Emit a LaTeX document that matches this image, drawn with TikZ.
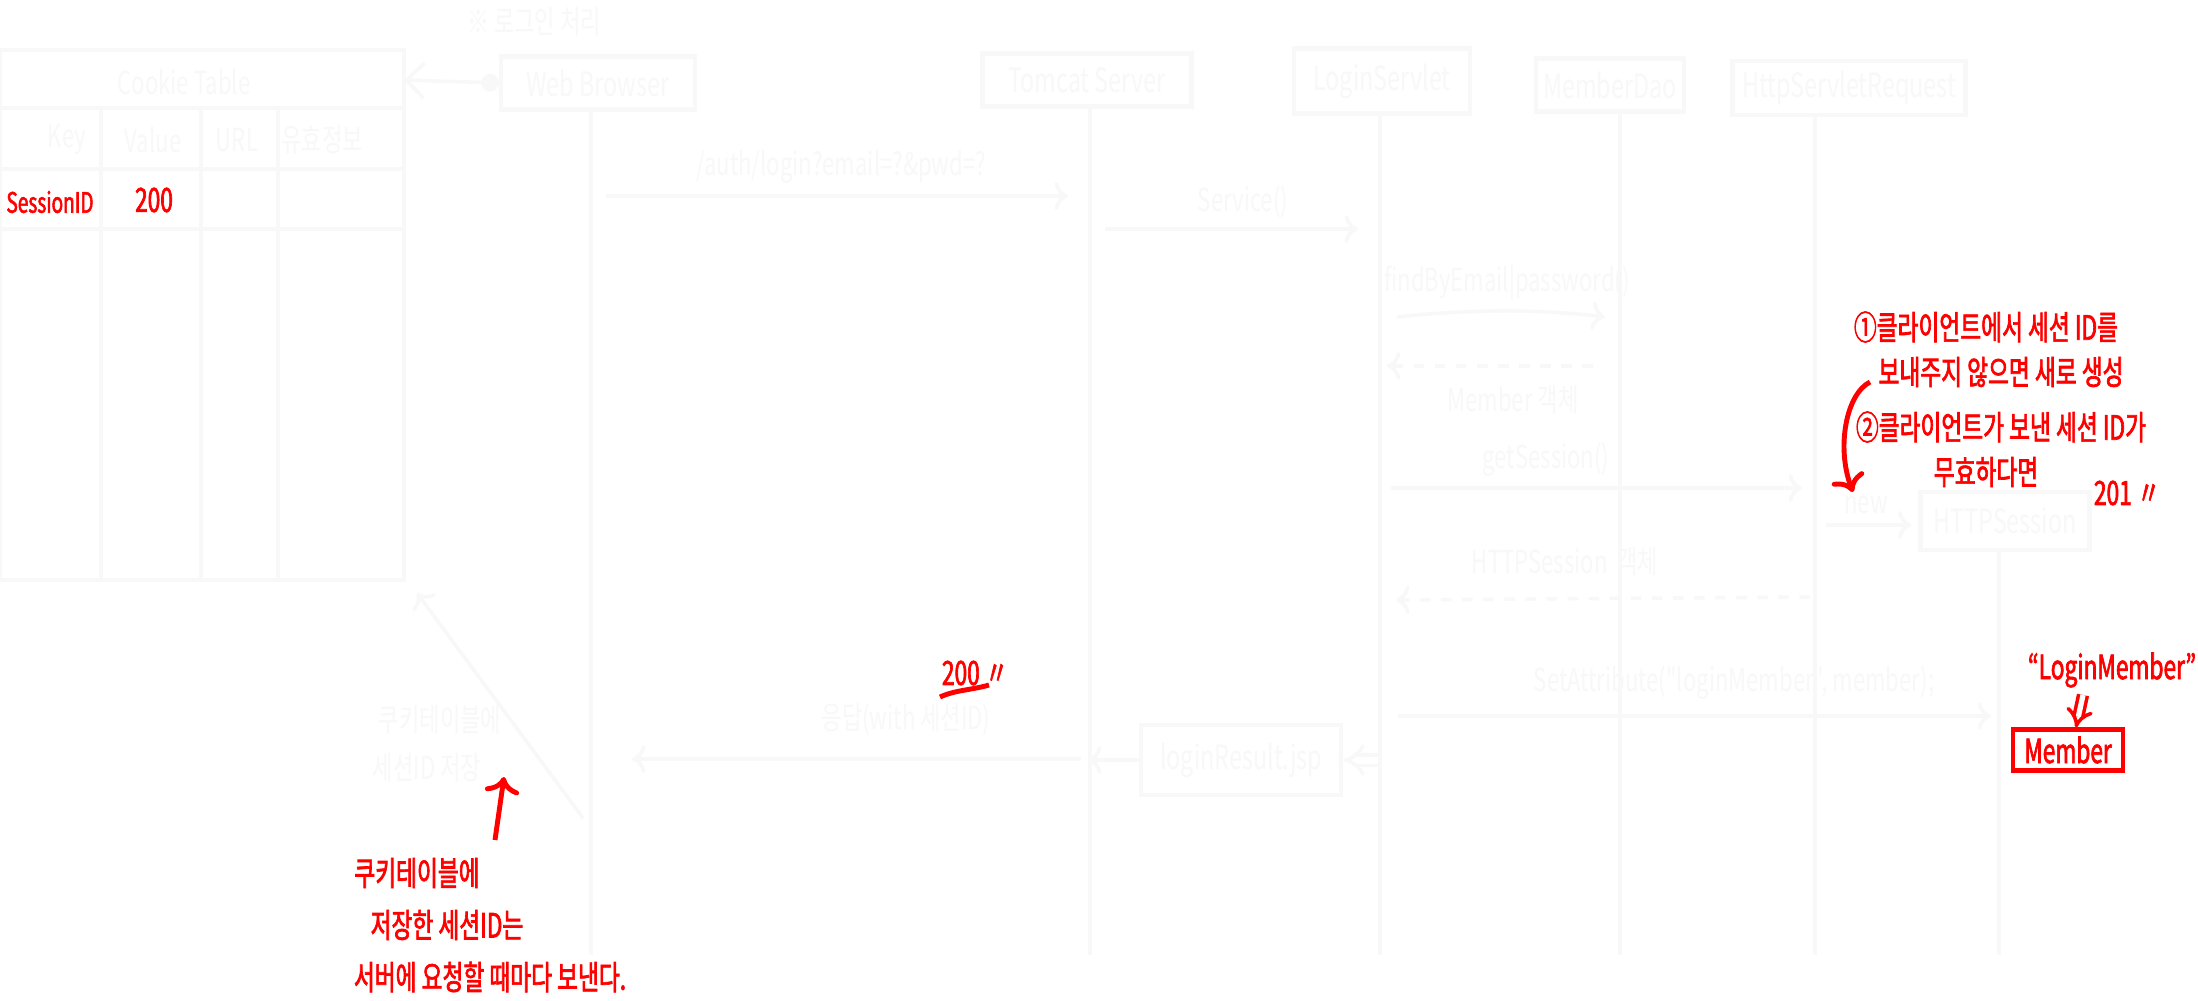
\documentclass[tikz,border=0pt]{standalone}
\usepackage{fontspec}
\newfontfamily\hand[FakeStretch=0.7]{Noto Sans CJK KR}
\newfontfamily\handred[FakeStretch=0.68,FakeBold=2]{Noto Sans CJK KR}
\usetikzlibrary{arrows.meta}
\definecolor{chalk}{gray}{0.972}
\definecolor{pen}{RGB}{255,0,0}

\tikzset{
  actor/.style={draw=chalk, line width=1.2pt, text=chalk, inner sep=2pt,
    font=\hand\fontsize{9.5}{10}\selectfont},
  label/.style={text=chalk, inner sep=1pt, font=\hand\fontsize{9}{10}\selectfont},
  note/.style={text=pen, inner sep=0pt, font=\handred\fontsize{9.5}{10}\selectfont},
}

\begin{document}
\begin{tikzpicture}[x=0.1mm, y=-0.1mm]

\fill[white] (0,0) rectangle (2198,1000);
\useasboundingbox (0,0) rectangle (2198,1000);

\node[label] (title) at (534,22) {※ 로그인 처리};

\begin{scope}[chalk, line width=1pt]
\draw (0,50) rectangle (404,580);
\foreach \y in {108,169,229} \draw (0,\y) -- (404,\y);
\foreach \x in {101,201,278} \draw (\x,108) -- (\x,580);
\end{scope}

\node[label] (cookie) at (184,82) {Cookie Table};
\node[label] (key) at (67,140) {Key};
\node[label] (value) at (153,140) {Value};
\node[label] (url) at (237,140) {URL};
\node[label] (valid) at (322,140) {유효정보};
\node[note, font=\handred\fontsize{8}{9}\selectfont] (sid) at (50,202) {SessionID};
\node[note] (sidval) at (154,200) {200};

\node[actor, minimum width=19.4mm, minimum height=5.3mm] (browser) at (598,83) {Web Browser};
\node[actor, minimum width=20.9mm, minimum height=5.3mm] (tomcat) at (1087,80) {Tomcat Server};
\node[actor, minimum width=17.6mm, minimum height=6.5mm] (servlet) at (1382,81) {LoginServlet};
\node[actor, minimum width=14.1mm, minimum height=5.3mm] (dao) at (1610,85) {MemberDao};
\node[actor, minimum width=23.3mm, minimum height=5.4mm] (request) at (1849,88) {HttpServletRequest};
\node[actor, minimum width=16.9mm, minimum height=5.8mm] (session) at (2005,521) {HTTPSession};
\node[actor, minimum width=20mm, minimum height=7mm] (jsp) at (1241,760) {loginResult.jsp};

\begin{scope}[chalk, line width=1pt]
\foreach \n/\x in {browser/591, tomcat/1090, servlet/1380, dao/1620, request/1815, session/1999}
{
  \coordinate (\n-bot) at (\x,955);
  \draw (\n.south -| \n-bot) -- (\n-bot);
}
\end{scope}

\coordinate (tbl) at (404,80);
\coordinate (req-a) at (606,196);   \coordinate (req-b) at (1068,196);
\coordinate (svc-a) at (1105,229);  \coordinate (svc-b) at (1358,229);
\coordinate (find-a) at (1397,317); \coordinate (find-b) at (1605,317);
\coordinate (mem-a) at (1593,366);  \coordinate (mem-b) at (1387,366);
\coordinate (get-a) at (1391,488);  \coordinate (get-b) at (1802,488);
\coordinate (new-a) at (1826,525);
\coordinate (ses-a) at (1810,597);  \coordinate (ses-b) at (1396,600);
\coordinate (set-a) at (1398,716);  \coordinate (set-b) at (1991,716);
\coordinate (back-a) at (1378,760); \coordinate (back-b) at (1088,760);
\coordinate (resp-a) at (1081,759); \coordinate (resp-b) at (632,759);
\coordinate (save-a) at (583,818);  \coordinate (save-b) at (417,593);

\begin{scope}[chalk, line width=1pt, ->]
\draw[{Circle[length=5pt]}-{Straight Barb[length=5pt]}] (browser.west) -- (tbl);
\draw (req-a) -- (req-b);
\draw (svc-a) -- (svc-b);
\draw (find-a) .. controls (1470,309) and (1540,309) .. (find-b);
\draw[dashed] (mem-a) -- (mem-b);
\draw (get-a) -- (get-b);
\draw[shorten >=2pt] (new-a) -- (session.west |- new-a);
\draw[dashed] (ses-a) -- (ses-b);
\draw (set-a) -- (set-b);
\draw[double, double distance=2pt, -{Implies}] (back-a) -- (jsp.east);
\draw (jsp.west) -- (back-b);
\draw (resp-a) -- (resp-b);
\draw (save-a) -- (save-b);
\end{scope}

\node[label] (req-l) at (841,167) {/auth/login?email=?\&pwd=?};
\node[label] (svc-l) at (1243,202) {Service()};
\node[label] (find-l) at (1507,283) {findByEmail|password()};
\node[label] (mem-l) at (1513,400) {Member 객체};
\node[label] (get-l) at (1546,460) {getSession()};
\node[label] (new-l) at (1866,505) {new};
\node[label] (ses-l) at (1565,562) {HTTPSession \ 객체};
\node[label] (set-l) at (1734,683) {SetAttribute("loginMember", member);};
\node[label] (resp-l) at (906,720) {응답(with 세션ID)};
\node[label] (save-l1) at (440,720) {쿠키테이블에};
\node[label] (save-l2) at (427,768) {세션ID 저장};

\node[note] (n1) at (1986,327) {①클라이언트에서 세션 ID를};
\node[note] (n2) at (2001,372) {보내주지 않으면 새로 생성};
\node[note] (n3) at (2001,427) {②클라이언트가 보낸 세션 ID가};
\node[note] (n4) at (1986,472) {무효하다면};
\node[note] (created) at (2127,493) {201\,〃};
\node[note] (sent) at (975,673) {200\,〃};
\node[note] (attr) at (2112,670) {“LoginMember”};
\node[note, draw=pen, line width=1.2pt, minimum width=11mm, minimum height=4mm, inner sep=2pt] (member) at (2068,750) {Member};
\node[note] (c1) at (417,873) {쿠키테이블에};
\node[note] (c2) at (447,925) {저장한 세션ID는};
\node[note] (c3) at (490,977) {서버에 요청할 때마다 보낸다.};

\coordinate (loop-a) at (1870,382); \coordinate (loop-b) at (1853,492);
\coordinate (ul-a) at (940,697);    \coordinate (ul-b) at (989,685);
\coordinate (up-a) at (495,840);    \coordinate (up-b) at (504,777);

\begin{scope}[pen, line width=1.4pt]
\draw[->] (up-a) -- (up-b);
\draw[->] (loop-a) .. controls (1846,394) and (1836,448) .. (loop-b);
\draw (ul-a) .. controls (955,690) and (972,690) .. (ul-b);
\draw[double, double distance=1.5pt, line width=1pt, -{Implies}] (2083,695) -- (member.north -| 2076,0);
\end{scope}

\end{tikzpicture}
\end{document}
